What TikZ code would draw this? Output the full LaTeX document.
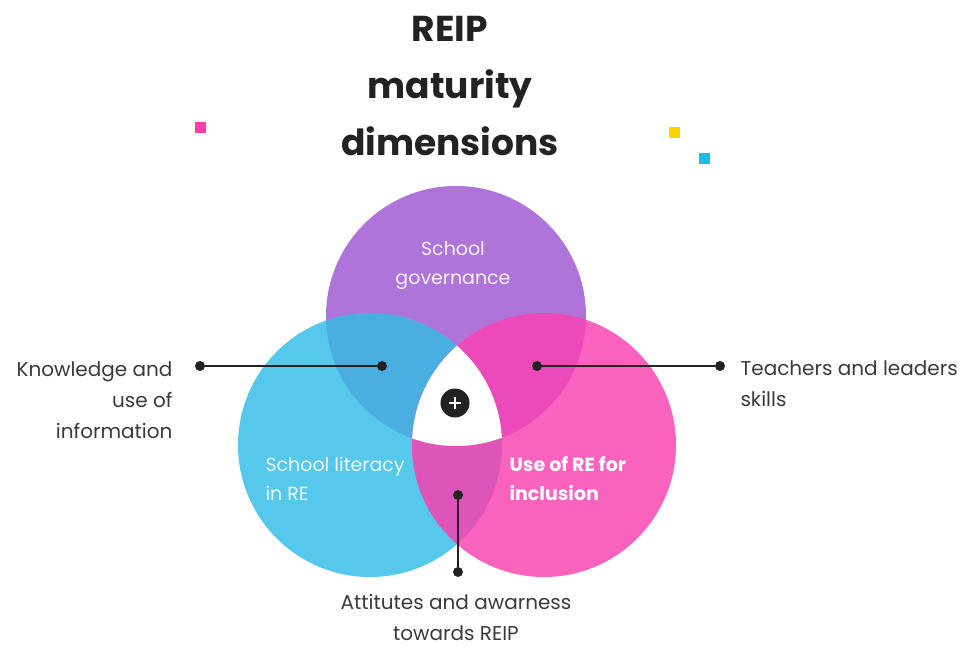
\documentclass[tikz,border=0pt]{standalone}
\usepackage{fontspec}
\setmainfont{Poppins}
\usepackage{tikz}
\definecolor{dark}{HTML}{222222}
\definecolor{txt}{HTML}{3A3A3A}
\definecolor{purp}{HTML}{AE74DA}
\definecolor{blu}{HTML}{56C8EB}
\definecolor{pnk}{HTML}{F963BE}
\definecolor{govlit}{HTML}{4AAFE0}
\definecolor{govinc}{HTML}{EC4ABA}
\definecolor{litinc}{HTML}{DD55B8}
\definecolor{sqpink}{HTML}{FF3FA8}
\definecolor{sqyellow}{HTML}{FFD200}
\definecolor{sqcyan}{HTML}{1BBEE6}

\begin{document}
\begin{tikzpicture}[x=1pt,y=-1pt]
		\useasboundingbox (0,0) rectangle (962,646);
		\coordinate (gov) at (456,316);
		\coordinate (lit) at (370,445);
		\coordinate (inc) at (544,445);
		\fill[purp] (gov) circle (130);
		\fill[blu] (lit) circle (132);
		\fill[pnk] (inc) circle (132);
		\begin{scope}
			\clip (gov) circle (130);
			\fill[govlit] (lit) circle (132);
			\fill[govinc] (inc) circle (132);
		\end{scope}
		\begin{scope}
			\clip (lit) circle (132);
			\fill[litinc] (inc) circle (132);
			\clip (gov) circle (130);
			\fill[white] (inc) circle (132);
		\end{scope}
		\node[fill=dark,circle,inner sep=0pt,minimum size=29pt] (plus) at (455,403) {};
		\draw[white,line width=2.2pt] (plus.center) +(-6,0) -- +(6,0) (plus.center) +(0,-6) -- +(0,6);
		\fill[sqpink] (195,122) rectangle +(11,11);
		\fill[sqyellow] (669,127) rectangle +(11,11);
		\fill[sqcyan] (699,153) rectangle +(11,11);
		\node[align=center,text=dark,font=\bfseries\fontsize{36}{57}\selectfont] (title) at (450,86) {REIP\\maturity\\dimensions};
		\node[align=center,text=white!90!purp,font=\fontsize{19}{29}\selectfont] (govtxt) at (453,266) {School\\governance};
		\node[align=left,anchor=west,text=white!88!blu,font=\fontsize{19}{29}\selectfont] (littxt) at (262,479) {School literacy\\in RE};
		\node[align=left,anchor=west,text=white,font=\bfseries\fontsize{19}{29}\selectfont] (inctxt) at (506,479) {Use of RE for\\inclusion};
		\node[fill=dark,circle,inner sep=0pt,minimum size=10pt] (k1) at (200,366) {};
		\node[fill=dark,circle,inner sep=0pt,minimum size=10pt] (k2) at (382,366) {};
		\node[fill=dark,circle,inner sep=0pt,minimum size=10pt] (t1) at (537,366) {};
		\node[fill=dark,circle,inner sep=0pt,minimum size=10pt] (t2) at (720,366) {};
		\node[fill=dark,circle,inner sep=0pt,minimum size=10pt] (a1) at (458,495) {};
		\node[fill=dark,circle,inner sep=0pt,minimum size=10pt] (a2) at (458,572) {};
		\draw[dark,line width=2.8pt] (k1) -- (k2);
		\draw[dark,line width=2.8pt] (t1) -- (t2);
		\draw[dark,line width=2.8pt] (a1) -- (a2);
		\node[align=right,anchor=east,text=txt,font=\fontsize{20}{31}\selectfont] (know) at (176,400) {Knowledge and\\use of\\information};
		\node[align=left,anchor=west,text=txt,font=\fontsize{20}{31}\selectfont] (teach) at (737,384) {Teachers and leaders\\skills};
		\node[align=center,inner sep=0pt,text=txt,font=\fontsize{20}{31}\selectfont] (att) at (456,617) {Attitutes and awarness\\towards REIP};
	\end{tikzpicture}
\end{document}
